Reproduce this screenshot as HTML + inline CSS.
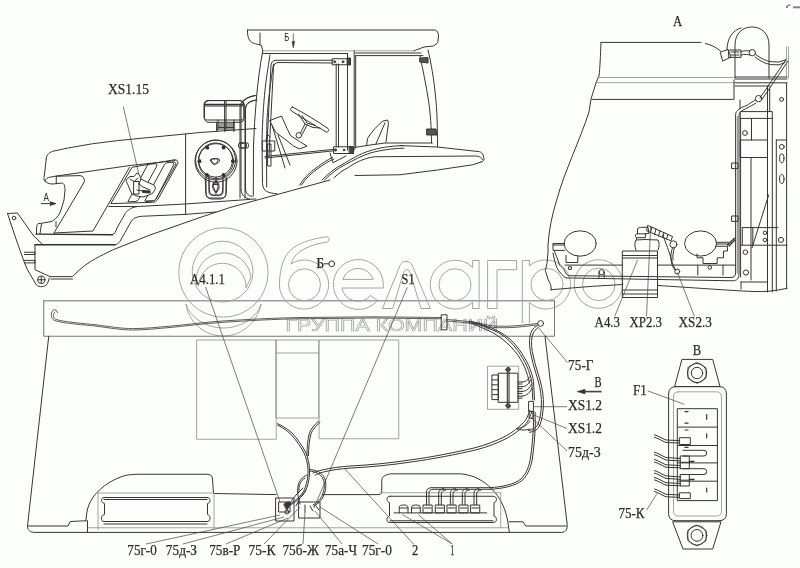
<!DOCTYPE html>
<html><head><meta charset="utf-8"><style>
html,body{margin:0;padding:0;background:#fcfefc;}
svg{display:block;will-change:transform;}
.l{fill:none;stroke:#3a3236;stroke-width:1;stroke-linejoin:round;stroke-linecap:round;}
.t{fill:none;stroke:#444;stroke-width:0.7;}
.k{fill:none;stroke:#2e2e2e;stroke-width:1.3;}
.g{fill:none;stroke:#8c8c8c;stroke-width:0.8;}
.wm{fill:none;stroke:#9a9a9a;stroke-width:0.9;}
.tx{font-family:"Liberation Serif",serif;font-size:15px;fill:#2e2a2c;stroke:#2e2a2c;stroke-width:0.25;}
.sx{font-family:"Liberation Sans",sans-serif;font-size:11px;fill:#2a2a2a;}
</style></head><body>
<svg width="800" height="568" viewBox="0 0 800 568">
<!-- WATERMARK -->
<g id="wm" class="wm">
  <circle cx="223.4" cy="272.5" r="44.7"/>
  <circle cx="222.6" cy="271.6" r="30.4"/>
  <path d="M198.5,286 L196.3,284 A27,27 0 0 1 251,277 L246,288 A23.5,23.5 0 0 0 198.5,286 Z"/>
  <path d="M186,304 C189,316 205,328 223.6,328 C242,328 258,316 261,304 C259,318 245,336 223.6,336 C202,336 188,320 186,304 Z"/>
  <path d="M327.5,236.75 C316,238 302,241.5 293,248 C284,255 280,266 279.4,284.5 C279.4,298 290.5,309 304,309 C317.6,309 328.6,298 328.6,284.5 C328.6,271 317.6,260 304,260 C299.5,260 295,261.5 291,264 C293,257 298,252 305,248.5 C312,245 320,243 327.5,242 C329.5,241 329.5,237 327.5,236.75 Z"/>
  <circle cx="304.5" cy="284.8" r="16"/>
  <path d="M383.3,288 L383.3,284.5 A25,25 0 1 0 377.5,300.5 L370.5,295.5 A16.5,16.5 0 0 1 341.9,288 Z"/>
  <path d="M342.8,279.4 L373.2,279.4 A16,16 0 0 0 342.8,279.4 Z"/>
  <path d="M382.5,308.5 L399.4,267 C401,263 403,261.3 406,261.3 C409,261.3 411,263 412.5,266 L430.3,308.5 L421,308.5 L410.6,274 C409.5,271 408.5,269.7 406.9,269.7 C405.3,269.7 404,271 403,274 L392.8,308.5 Z"/>
  <path d="M479.1,260.5 L479.1,308.5 L472.6,308.5 L472.6,302 C468.5,306.5 462,309 455,309 C441.5,309 430.3,298 430.3,284.7 C430.3,271.3 441.5,260.3 455,260.3 C462,260.3 468.5,263 472.6,267.5 L472.6,260.5 Z"/>
  <circle cx="455" cy="284.7" r="16"/>
  <path d="M487.6,308.5 L487.6,260.5 L516.6,260.5 L516.6,269.7 L497,269.7 L497,308.5 Z"/>
  <path d="M522.3,323 L522.3,260.5 L529.4,260.5 L529.4,266 C533.5,262 539.5,260 546,260 C559.5,260 570.5,271 570.5,284.5 C570.5,298 559.5,309 546,309 C539.5,309 533.5,306.5 529.4,302.5 L529.4,323"/>
  <circle cx="547" cy="284.5" r="16"/>
  <circle cx="598.5" cy="284" r="24.3"/>
  <circle cx="598.8" cy="284.4" r="16.3"/>
  <text x="285.5" y="331" style="font-family:'Liberation Sans',sans-serif;font-size:16px;stroke-width:0.6" textLength="213" lengthAdjust="spacingAndGlyphs">ГРУППА КОМПАНИЙ</text>
</g>

<!-- TRACTOR -->
<g id="tractor" class="l">
  <!-- hood top -->
  <path d="M46.25,158.75 C46.5,154 50,152 54,151 L67.5,148.1 L92.5,143.75 L117.5,140.6 L200,132.5 L256,128.5"/>
  <!-- hood front + C cutout inner -->
  <path d="M46.25,158.75 L44.4,175 C43.5,179 44,181 46,182 C48,183.5 50,184 53,184 L62,183 C64,183.5 65,185 65,190 L64,200 L61,210 C60,213 58.5,215.5 57,217 C55,219.5 53,221 51,221.6 L43,223 L38,223.7 C37,224.5 36.8,226 36.6,228 L36.5,233.7"/>
  <path d="M45,181 C46,178.5 47.5,177.5 50,177.2 L55,176.25 L130,165.5 L175,160.6"/>
  <path d="M56.25,176.25 L56.25,183.5"/>
  <path d="M41.5,224 L40,233.7"/>
  <path d="M56,221.6 L56,227"/>
  <!-- C shape right edge -->
  <path d="M56.25,176.25 L80,175.6 C83,176 84.5,178 84.4,181.25 L82.5,185 L54,233"/>
  <!-- grille bottom + long diagonal -->
  <path d="M54,233 L93,231 L129.5,167.3"/>
  <!-- grille frame -->
  <path d="M111,203.3 L132,167.3 L174,159.8 Q178.5,159.5 177.8,163.5 L157.5,200 Q156,202.3 153,202.3 Z"/>
  <path d="M156,199 Q154.8,200.8 152.5,200.8 L146,201 M175.8,164.5 L156,199 M173,161.8 Q176.5,161.8 175.8,164.5"/>
  <!-- slots -->
  <path d="M128,201.5 L147.5,165 Q149,164 150.5,163.8 L155.5,163.8 Q157.3,164.3 156.8,166 L138.5,199.5 Q137.5,201.5 135.5,201.5 Z"/>
  <path d="M145,200.5 L164.5,164.5 Q166,162.5 168,162.5 L172,162.3 Q174,162.8 173.8,164.5 L156,199 Q155,200.8 152.5,201 L146.5,201.5 Z"/>
  <!-- connector XS1.15 -->
  <path style="fill:#fcfefc" d="M126.5,179.5 L130,176.5 L134,176.5 L137,173 L139.5,175 L141,179 L147,182 L154,185 C155.5,186.5 155.5,189.5 155,189.5 L153,193 L149,195 L143,197 L137,196 L132,194 L130,190 L128,185 L126.5,182 Z"/>
  <path d="M134,181.5 L139,181.5 L139,194 L134,194 Z M130,179 L134,181.5 L138,178 M139,184 L143,187 L150,190 M137,190 L143,191 L150,192.5 M141,179 L139,184"/>
  <path d="M143,190.5 L150,191 L150,193 L143,192.5 Z" style="fill:#333"/>
  <!-- lines below grille -->
  <path d="M108.75,206.5 L137.5,206.5"/>
  <path class="k" d="M36,234.2 L112.5,234.75"/>
  <path d="M112.5,234.75 C114.5,234.5 116,231 117,228 L125,213.75 C126,212 127,211 128.75,210 C130.5,208.5 132,207.5 137.5,206.5 L185,204 L250,199.4"/>
  <path class="k" d="M35,244.75 L115,244.75"/>
  <path d="M115,244.75 C117,244.5 118.5,243.5 120,241.25 L125,232.5 L131.25,221.25 C132.5,219.5 134,218 136.25,217.5 C138,216.6 140,216.25 142.5,216.25 L185,214.4 L216,212"/>
  <path d="M185.6,134 L185.6,214.4"/>
  <!-- bumper/frame -->
  <path d="M33.75,236 L43,244.75"/>
  <path d="M35,244.75 L35,269.75 L50,276.6 L72.5,276.6 L81,268.5 C90,261 100,256 112.5,250 L150,235 L200,217.5 L230,207.5 L280,193.75 L330,180"/>
  <path d="M51,279 L72.5,279"/>
  <!-- bracket -->
  <path d="M7.5,213.5 L17.5,213 L33.75,236 M7.5,213.5 L15,236 L23.75,261 L27.5,269.75 L36.25,284.75 C38,286.5 40,287 42.5,286.6 C45,286 47,285 47.5,283.5 L49.4,278"/>
  <circle cx="14" cy="218" r="1.8"/>
  <path d="M24.4,252.25 L35,252.25 L35,254.5 L24.4,254.5 M24.4,260.4 L35,260.4 L35,262.9 L24.4,262.9"/>
  <circle cx="41.25" cy="279.75" r="3.75"/>
  <path d="M38,279.75 L44.5,279.75 M41.25,276.5 L41.25,283"/>
  <!-- arrow A -->
  <path d="M41.5,203.6 L55,203.6"/>
  <path d="M50,201.8 L55.6,203.6 L50,205.4" style="fill:#3a3a3a"/>

  <!-- air cleaner -->
  <path d="M204.5,105 C204.5,102 206.5,100.6 210,100.6 L238,100.6 C242,100.6 244,102 244,105 L244,118 C244,120.5 242.5,122.3 240,122.3 L208.5,122.3 C206,122.3 204.5,120.5 204.5,118 Z"/>
  <path d="M204.7,104.5 L243.8,104.5" style="stroke-width:1.6"/>
  <path d="M224.6,100.6 L224.6,122.3"/>
  <path d="M216.6,122.3 L216.6,131.5 M233.8,122.3 L233.8,131.5 M216.6,126 L233.8,126 M216.6,129 L233.8,129 M224.6,122.3 L224.6,131.5"/>
  <!-- fuel cap -->
  <circle cx="216" cy="161.2" r="21"/>
  <circle cx="216" cy="161.2" r="17.5"/>
  <path d="M210.5,160 C211.5,158 213.5,158.5 214.3,159.5 C215,158.5 217,158 218,160 C218,162 215.5,164.5 214.3,164.8 C213,164.5 210.5,162 210.5,160 Z"/>
  <g style="fill:#3a3236;stroke:none">
  <circle cx="207" cy="147.5" r="1.9"/><circle cx="223.5" cy="147.5" r="1.9"/><circle cx="199.5" cy="161.2" r="1.9"/><circle cx="233" cy="161.2" r="1.9"/><circle cx="207" cy="175" r="1.9"/><circle cx="223.5" cy="175" r="1.9"/>
  </g>
  <path d="M205.2,178 L205.8,192 C206,197 209,199 212,199 L220,199 C223,199 226,197 226.2,192 L226.8,178"/>
  <path d="M209,180 L209.3,190 C209.5,193.5 211.5,195.3 213.5,195.5 L218.5,195.5 C220.5,195.3 222.5,193.5 222.7,190 L223,180"/>
  <path d="M213,184.5 L219,184.5 L219,188.5 L216,193.5 L213,188.5 Z M214,184.5 L214,182 L218,182 L218,184.5 M216,178 L216,182"/>
  <!-- pipe -->
  <path d="M240,198 L240,108 C240,101 246,97 255,95.5"/>
  <path d="M245,198 L245,110 C245,104 249,101 256,100"/>
  <rect x="238.5" y="143" width="8" height="5" rx="1.5"/>
  <!-- cab roof -->
  <path d="M247.5,30 L435,30 C437,30.5 438.5,33 438.5,36 L438,41 C437.5,43 436.5,44.5 435,44.8 L433.5,46 L424,47 L414,50.8"/>
  <path d="M247.5,30 C247.3,34 248,38 249.5,40 C251,43 256,44 260,44.8 L261.5,45.5 L262.75,50.8"/>
  <path d="M260,33 L260,45"/>
  <path class="g" d="M262.75,50.8 L414,50.8"/>
  <path d="M262.75,53.5 L347.5,53.5"/>
  <path d="M355.7,53 L421,53 M355.7,55.6 L423,55.6"/>
  <!-- A pillar -->
  <path d="M262.75,50.8 C260,65 257.5,85 256.3,100 C255,115 254,130 253.5,145 L253.3,196"/>
  <path d="M270,55 C268,68 266,80 265,90 C263.5,105 262.5,120 262,141.8 L262.5,183.7 C263,188 264.5,190.5 266.7,191.5 C270,193 273,193.5 276.8,193.7"/>
  <path d="M273.5,64 C271,80 268,100 267,120 L266.5,142 L266.7,187"/>
  <!-- door frame -->
  <path d="M333,60.25 L276,60.25 C273,60.5 271.5,62 271,65 L268,125 L266.5,156"/>
  <path d="M333,63 L278,62.5 C275.5,63 274,64 273.5,67 L270.5,125 L269,156"/>
  <path d="M336.2,64 L336.2,147 M338.5,64 L338.5,147"/>
  <!-- B-pillar -->
  <path d="M347.5,53.5 L347.5,150 M354.2,50.8 L354.2,150 M355.7,55.6 L355.7,148"/>
  <path d="M332.5,58.75 L350.5,58.75 L350.5,64.75 L332.5,64.75 Z"/>
  <path d="M347.5,58 L350.5,58 L350.5,64.75 L347.5,64.75 Z" style="fill:#444"/>
  <circle cx="334.7" cy="61.75" r="0.9" style="fill:#333"/>
  <circle cx="343" cy="61.75" r="0.9" style="fill:#333"/>
  <path d="M334,146.75 L353.5,146.75 L353.5,153.5 L334,153.5 Z"/>
  <path d="M349.5,146.75 L353.5,146.75 L353.5,153.5 L349.5,153.5 Z" style="fill:#444"/>
  <circle cx="335.5" cy="150" r="1" style="fill:#333"/>
  <circle cx="344" cy="150" r="0.8" style="fill:#333"/>
  <!-- door bottom rod -->
  <path d="M265,156.5 L334,149.3 M265,158 L334,150.8"/>
  <!-- rear pillar -->
  <path d="M428,50 C431,62 434,80 435.5,96 C437,110 437.5,125 437.5,147"/>
  <path d="M420,56 C423,70 426,85 428.6,101 C430.5,115 431.3,125 431.5,143"/>
  <path d="M420,58 L428,57.5 L428,63 L420,62 Z" style="fill:#555"/>
  <path d="M427,129 L436,129 L437,135 L427,135 Z" style="fill:#555"/>
  <!-- rear window bottom -->
  <path d="M355.7,147.3 C365,146 375,144 385,143 L432.3,143"/>
  <!-- rear seat -->
  <path d="M366.6,145.5 L367.5,138.5 C372,131 378,125 383,121 L387.6,120 L388.5,122.8 L386,142"/>
  <path d="M376,143.8 L385,122.8"/>
  <!-- front seat -->
  <path d="M270,120.5 L281.5,116 L287.5,129.5 L290.5,135.5 L299.5,141.5 L307,146 L299.5,149 L293.5,146 L286,140 L276,132.5 Z"/>
  <path d="M272,125 L285,168 M278,135 L290,165"/>
  <!-- steering wheel -->
  <path d="M292.5,107 C304,113 317,121 328,128.5 C329.5,130 328.3,132.5 326.3,132 C315,125.5 302.5,118 291.5,111 C290,110 290.5,107 292.5,107 Z"/>
  <path d="M298.5,114 L305,124 L313,127.5 L320,128 M302,115.5 L307,123 L315,125.5"/>
  <path d="M305,124 L300.5,133 M307,125 L302.5,134"/>
  <circle cx="298.8" cy="135.3" r="2.8"/>
  <!-- lever -->
  <path d="M262.75,141 L274.75,141 L274.75,151 L262.75,151 Z"/>
  <path d="M268,144 L271,144 L271,166 L268,166 Z"/>
  <path d="M266,140 L268,135 L270,137"/>
  <!-- air cleaner -->
  <path d="M208,100.5 L240,100.5 C243,100.5 244,102 244,105 L244,117 C244,119 243,120 241,120 L207,120 C205,120 204,119 204,117 L204,105 C204,102 205,100.5 208,100.5 Z"/>
  <path d="M226,100.5 L226,120 M204.5,106 L243.5,106"/>
  <path d="M218,120 L218,130 M234,120 L234,130 M218,124 L234,124 M218,127.5 L234,127.5 M226,120 L226,130"/>
  <!-- fuel cap -->
  <circle cx="215.6" cy="160" r="20"/>
  <circle cx="215.6" cy="160" r="17"/>
  <path d="M211,160 C212,158 219,158 220,160 C219,162.5 216.5,164 215.5,164 C214.5,164 212,162.5 211,160 Z"/>
  <g style="fill:#333;stroke:none">
  <circle cx="208" cy="148" r="1.3"/><circle cx="224" cy="148" r="1.3"/><circle cx="199" cy="161" r="1.3"/><circle cx="232.4" cy="161" r="1.3"/><circle cx="208" cy="176" r="1.3"/><circle cx="224" cy="176" r="1.3"/>
  </g>
  <path d="M206,178 L206,194 C206,197 208,198 210,198 L222,198 C224,198 226,197 226,194 L226,178"/>
  <path d="M209,177 L209,192 C209,194.5 210.5,195 212,195 L220,195 C221.5,195 223,194.5 223,192 L223,177"/>
  <path d="M213.5,183 L218,183 L218,187 L216,193 L213.5,187 Z M216,177.5 L216,183"/>
  <!-- pipe -->
  <path d="M241,190 L241,108 C241,101 247,97 256,95.5 M241,190 C241.5,195 245,198.5 250,199.2 L256,199"/>
  <path d="M245.5,190 L245.5,110 C245.5,104 249,101 257,100 M245.5,190 C246,193.5 248.5,196 252,196.5"/>
  <rect x="240.5" y="143" width="8" height="5" rx="1.5"/>
  <!-- fender -->
  <path d="M400,145.6 L437.5,147 L479.6,151.7 C482,152.5 483.5,154 484,159.5 C483.5,161 482.5,161.8 481,162"/>
  <path d="M334,177.75 C338,174 343,170 347.5,168 C356,162 365,158 374.5,156.75 L476,156 C479.5,156 482,158 483,160"/>
  <path d="M355,175.5 L400,174.75 L437.5,170 L472.6,164.8 L481,162"/>
  <path d="M299.5,185.2 C304,178 310,172 316,168 C322,163.5 327,160 332.5,157.5"/>
  <path d="M301.5,185 C306,178 312,172.5 318,168.5 C324,164 329,161 334,159"/>
  <path d="M322,180 C328,174 335,168 343,164 C350,160 360,153.5 370,150.75 C378,148 390,146 402.5,145.6"/>
  <path d="M324.5,180 C330.5,174 337.5,168.5 345.5,164.5 C353,160.5 362,155.5 371,152.8 C380,150.3 392,148.5 404,148.2"/>
  <path d="M330,153 L333,162.75 L346,156"/>
</g>

<!-- VIEW A -->
<g id="viewA" class="l">
  <path d="M601,42.4 L701,42.4"/>
  <path d="M705.5,43.5 C712,45 717,48 720.5,51"/>
  <path d="M601,42.4 C600.5,55 600,68 599,76 L598,78 L596,83 L591,99 L589,112 C580,140 565,170 556.7,200 C552,215 549,230 548,245 L548,252.8 L547,263.4 L545.3,270.4 L548,279.2 L550.6,284.5 L551.4,289.8"/>
  <path class="g" d="M598,77.5 L733,77.5 M596,82.6 L733,82.6"/>
  <path d="M592,99.4 L734,99.4 L734,80 M740,100 L740,108.7"/>
  <path d="M735,77 L787,77 M735,79 L787,79"/>
  <path d="M735,82.8 L787,82.8 M735,86 L770,86"/>
  <!-- beacon -->
  <path d="M735,78 L735,45 C735,33 743,27 752,27 C761,27 769,33 769,45 L769,78"/>
  <path d="M727,50 C727,38 733,30 741,28"/>
  <path d="M720.6,52 L728,49.5 L731,57 L723,61 Z"/>
  <path d="M729,50 L741,50 L741,57.4 L729,57.4 Z M731,52 L739,52 M731,55 L739,55"/>
  <path d="M741,51.5 C745,50.5 748,50.5 750,51 M741,55 C745,54 748,54.5 750,55"/>
  <circle cx="752.3" cy="52.7" r="3.2"/>
  <path d="M755.5,54.3 C759,57 763,59.5 766.5,60.6 C771,62 775,62 779,62 L785.6,59.8 M755,57 C759,60 763,62.5 766.5,63.5 C771,65 775,64.8 779,64.8 L785,62.5"/>
  <!-- rod -->
  <path d="M786.4,59 L760,98 M788,61 L762,99.5"/>
  <circle cx="758.6" cy="98.6" r="3.2"/>
  <!-- wire down -->
  <path d="M755.5,100 C752,102 749,104 747.5,105 C743,107 739,108.5 737.5,110.5 C736,112 735.6,113 735.6,116 L735.6,273 C735.6,276 734,277.3 731,277.5 L568.3,275.7 C566,274 565,272 564,269.4 C561.5,267 560.5,266 559.8,265.2 L556.6,256.7 L554.5,251.4"/>
  <path d="M756,103 C753,105 750,106.5 748,107.5 C744,109.5 741,111 740,112.5 C739.2,113.5 739,115 739,117 L739,274 C739,278.5 737,280.5 733,280.8 L566,277.9 C563,276.5 560.5,273 557.7,269.4 C556.5,267 555.5,264 554.5,260 L553,253"/>
  <path d="M737.5,117 L737.5,273" style="stroke:#999;stroke-width:1.5"/>
  <!-- right frame -->
  <path d="M740.6,111.6 L772.3,111.6 L772.3,118.4 L740.6,118.4 Z"/>
  <path d="M740.6,118.4 L740.6,277 M751.5,118.4 L751.5,140 M751,157.5 L751,280 M767.5,86 L767.5,292 M772.3,118.4 L772.3,292 M769.7,88 L769.7,111.6"/>
  <path d="M740.6,140 L767.5,140 L767.5,157.5 L740.6,157.5 Z"/>
  <path d="M776.3,140 L776.3,291 M786.6,82.8 L786.6,289"/>
  <path class="g" d="M786.5,47 L786.5,78 M788.5,47 L788.5,78"/>
  <path d="M776.3,140 L786.6,140 M742.3,227.6 L778,227.6 M740.6,245.2 L787,245.2"/>
  <path d="M742.3,227.6 L742.3,245.2 M752.8,227.6 L752.8,245.2"/>
  <path d="M768.7,195 L752,247.8"/>
  
  <path d="M741,282 L767,282 M741,282 L741,289"/>
  <circle cx="745" cy="133" r="2.4"/>
  <circle cx="781.8" cy="146.8" r="2.4"/>
  <ellipse cx="781.8" cy="158.3" rx="2.2" ry="4.5"/>
  <ellipse cx="781.8" cy="179" rx="2.2" ry="4.5"/>
  <circle cx="781.6" cy="99.4" r="2"/>
  <circle cx="765" cy="232.8" r="1.8"/>
  <circle cx="765" cy="239.9" r="1.8"/>
  <circle cx="781" cy="239.9" r="2.6"/>
  <circle cx="745.4" cy="252.2" r="2.3"/>
  <circle cx="746" cy="272.5" r="2.6"/>
  <path d="M732,163 L738,163 L738,168.6 L732,168.6 Z M732,216 L738,216 L738,221.4 L732,221.4 Z"/>
  <!-- lamps -->
  <ellipse cx="580.2" cy="243.5" rx="16.1" ry="12.7"/>
  <ellipse cx="700.6" cy="243.5" rx="16" ry="12.6"/>
  <path d="M564.5,243.5 L553,243.5 L553,250.4 L564.6,250.4 M553,245 L564.5,245"/>
  <path d="M566,255.5 L566,262.5 L577.8,262.5 L577.8,256"/>
  <path d="M568.8,266.8 L571.4,266.8 L571.4,269.4 L568.8,269.4 Z"/>
  <path d="M716.6,242.3 L728.6,242.3 M716.6,244 L728.6,244"/>
  <path d="M716,246.3 L727.5,246.3 L727.5,251 L723.5,251 L723.5,257.8 L717.2,257.8 L717.2,263.5 L703,263.5 L703,257.8 L697,257.8 L697,254"/>
  <path d="M697.8,265.2 L697.8,275 M723,265.2 L723,275"/>
  <circle cx="709.8" cy="267.5" r="1.8"/>
  <path d="M727.5,245 L734.4,238.3 M729,246 L735,240" style="stroke-width:1.3"/>
  <!-- floor lines -->
  <path d="M565,265.1 L622.7,265.1 M657.5,265.1 L735,265.1"/>
  <path d="M550.6,289.8 C565,288.5 580,287.3 592.8,286.3 L622.7,284.5 M657.5,285.5 C690,287.5 730,290.5 752.8,291.5 C765,292 775,291 787.1,288.3"/>
  <circle cx="601.6" cy="272.2" r="2.6"/>
  <path d="M599,272 L599,277.5 M604.2,272 L604.2,277.5"/>
  <!-- connector barrel -->
  <path d="M622.7,251 L657.5,251 L657.5,297.5 L622.7,297.5 Z"/>
  <path d="M622.7,255.5 L657.5,255.5 M622.7,258 L657.5,258 M622.7,290 L657.5,290 M622.7,294 L657.5,294"/>
  <path d="M636,250 C634.5,247 634.5,242 636,240 L645,239.5 L658,240 C659.5,242 659.5,247 658,250"/>
  <path d="M636.5,239.5 L636.5,237.7 L645.4,237.7 L645.4,233.8 L636.5,233.8 C635,233.8 635,237.7 636.5,237.7"/>
  <path d="M637.5,233.8 L637.5,229 C638,227.5 640,227.3 642,227.3 L648,227.3 L649,233.4 L645.4,233.8"/>
  <path d="M648,225.5 L672.5,236.5 L671,240.8 L647,231 Z"/>
  <path d="M652,227 L650.5,232.5 M656,229 L654.5,234.5 M660,230.5 L658.5,236 M664,232.5 L662.5,237.5 M668,234.5 L666.5,239"/>
  <circle cx="673.4" cy="244.3" r="3.5"/>
  <path d="M662.9,235 C665,241 667,246 669,251.7 L671.6,260 C672.5,264 674,268 676,270"/>
  <path d="M672.5,247.8 C671,252 670.5,256 671,260 C671.5,264 673,268 675,270 M674.5,247.8 C673,252 672.5,256 673,260"/>
  <circle cx="677.2" cy="271.5" r="2.5"/>
</g>

<!-- PANEL (view B) -->
<g id="panel" class="l">
  <path style="stroke:#97a397;stroke-width:1.3" d="M43.75,300.75 L554.5,300.75"/>
  <path style="stroke:#6a6468;stroke-width:0.9" d="M43.75,300.75 L43.75,336.25 L554.5,336.25 L554.5,300.75"/>
  <path d="M48.75,336.25 L27.5,526 C27.5,529.5 29,531.5 33.5,532.4 L561.5,532.4 C566,532 567.5,529.5 567.2,524.5 L557.5,442 L545,336.25"/>
  <path d="M27.5,526 L68,526 L70.25,521.5 L86,520.75"/>
  <path d="M509,521.75 L523,521.75 L525.75,526 L566.5,526"/>
  <path class="g" d="M87.5,527.75 L508.5,527.75"/>
  <!-- left console -->
  <path d="M86,520.75 C86.5,510 88.5,500 99.5,490 C106,484 113,479.5 125,475.5 C130,474.5 135,474.25 140,474.25 L207,474.25 C210.5,474.25 212.5,476 212.5,479 L213.5,493.5 L276,494.6"/>
  <path d="M87.5,520.75 L87.5,532.4"/>
  <path class="g" d="M98,493 L214,493 L214,529.75 M98,493 L98,529.75"/>
  <path d="M104,497.5 L207,497.5 C209,497.5 210,498.5 210,500.5 C210,502.5 209,503 207.5,503.5 L207.5,514.5 C209,515 210,516 210,518 C210,520.5 209,521.5 207,521.5 L104,521.5 C102,521.5 101.5,520.5 101.5,518.3 C101.5,516 102.5,515 104.5,514.5 L104.5,503.5 C102.5,503 101.5,502 101.5,500.5 C101.5,498.5 102.5,497.5 104,497.5 Z"/>
  <path d="M104,499.5 L207,499.5 M104,524 L207,524"/>
  <!-- right console -->
  <path d="M323,494.6 L380,494.6 L381.75,492.75 L381.75,480.5 C382,477 384,475 390.5,473.85 L460.5,473.85 C465,474 470,475.5 474.5,477 C480,479.5 485,482.5 488.5,485.75 C494,491 497,494.5 499,498 C502,503 504.5,508 506,513.75 C507.5,519 508.3,524 508.6,527.75 L509.5,532.4"/>
  <path class="g" d="M380,492.75 L500.75,492.75 L500.75,527.75"/>
  <path d="M390,496.25 L493,496.25 C495.5,496.25 496.4,497.5 496.4,499.5 C496.4,501.5 495.5,502 494,502.5 L494,516 C495.5,516.5 496.4,517.5 496.4,519.5 C496.4,521.5 495.5,522.5 493,522.5 L390,522.5 C388,522.5 387,521.5 387,519.5 C387,517.5 388,516.5 389.5,516 L389.5,502.5 C388,502 387,501 387,499.5 C387,497.5 388,496.25 390,496.25 Z"/>
  <path d="M390,520.75 L493,520.75"/>
  <path d="M394,512.9 L486.75,512.9"/>
  <!-- rectangles -->
  <path class="g" d="M197,340 L276.25,340 L276.25,439.25 L197,439.25 Z"/>
  <path class="g" d="M276.25,340 L318.75,340 L318.75,418 L276.25,418 Z M276.25,353 L318.75,353"/>
  <path class="g" d="M319.5,340 L398.75,340 L398.75,438.75 L319.5,438.75 Z"/>
  <!-- relay -->
  <path class="g" d="M487.9,366.2 L518.7,366.2 L518.7,409.3 L487.9,409.3 Z"/>
  <path d="M492.3,375 L498.5,375 L498.5,399.6 L492.3,399.6 Z M492.3,379.9 L498.5,379.9 M492.3,384.8 L498.5,384.8 M492.3,389.7 L498.5,389.7 M492.3,394.6 L498.5,394.6"/>
  <path d="M498.5,373.2 L517.9,373.2 L517.9,402.3 L498.5,402.3 Z"/>
  <path d="M507.3,367.5 L507.3,408 M509,367.5 L509,408" style="stroke-width:1.1"/>
  <path d="M505.5,369.5 L508.2,367.3 L510.9,369.5 L508.2,371.3 Z M505.5,405.8 L508.2,408.2 L510.9,405.8 L508.2,404 Z" style="fill:#555"/>
  <path d="M517.9,382 L522,382 M517.9,386.7 L522,386.7 M517.9,391.4 L522,391.4 M517.9,396.1 L522,396.1 M517.9,384 L522,384 M517.9,388.7 L522,388.7 M517.9,393.4 L522,393.4 M517.9,398.1 L522,398.1"/>
  <!-- connector block -->
  <path d="M276,498 L294,498 L294,521 L276,521 Z"/>
  <path d="M299,502 L320,502 L320,518 L299,518 Z"/>
  <path d="M279,502 L290,502 L290,512 L279,512 Z"/>
  <!-- strip clip & grommet -->
  <path d="M441.6,314.8 L447,314.8 L447,329.8 L441.6,329.8 Z"/>
  <circle cx="540.6" cy="323.5" r="2.9"/>
</g>

<!-- FUSES IN CONSOLE -->
<g id="fuses" class="l">
  <path d="M399.25,512.9 L399.25,507.5 C399.25,505.5 401,505 403.6,505 C406.3,505 408,505.5 408,507.5 L408,512.9 M399.25,508 L408,508"/>
  <path d="M411.5,512.9 L411.5,507.5 C411.5,505.5 413.3,505 415.9,505 C418.5,505 420.25,505.5 420.25,507.5 L420.25,512.9 M411.5,508 L420.25,508"/>
  <rect x="423.4" y="505" width="8.75" height="7.9"/>
  <rect x="435.65" y="505" width="8.75" height="7.9"/>
  <rect x="447.4" y="505" width="8.75" height="7.9"/>
  <rect x="459.3" y="505" width="8.75" height="7.9"/>
  <rect x="471" y="505" width="8.75" height="7.9"/>
  <path d="M424.5,508 L431,508 M436.7,508 L443.3,508 M448.5,508 L455,508 M460.4,508 L467,508 M472,508 L478.7,508"/>
  <path d="M426.5,505 L426.5,492 C426.5,489.5 428,488 431,487.7 L490,487.7 M429,505 L429,493 C429,490.5 430.5,489.3 433,489.3 L490,489.3"/>
  <path d="M438.7,505 L438.7,493.5 C438.7,490.5 440.5,489 444,488.5 M441.3,505 L441.3,494 C441.3,491.5 443,490.2 446,490"/>
  <path d="M450.4,505 L450.4,493.5 C450.4,490.5 452,489 455.5,488.5 M453,505 L453,494 C453,491.5 454.7,490.2 457.5,490"/>
  <path d="M462.3,505 L462.3,493.5 C462.3,490.5 464,489 467.5,488.5 M465,505 L465,494 C465,491.5 466.5,490.2 469.5,490"/>
  <path d="M474,505 L474,493.5 C474,490.5 475.7,489 479,488.5 M476.7,505 L476.7,494 C476.7,491.5 478.3,490.2 481,490"/>
  <path d="M490,487.7 C502,487 514,484.5 521,479 C527,473 529,466 530.5,458 C532,448 533,436 533.5,424 L533,412 M490,489.3 C503,488.6 515,486 522.5,480.2 C528.5,474 530.8,467 532.3,459 C533.8,449 534.8,437 535.3,425 L535,412"/>
</g>

<!-- HARNESS -->
<g id="harness" class="l">
  <!-- strip wire -->
  <path style="stroke-width:0.8" d="M57.5,312.5 C57,310 55,309.3 53.5,310 C51,311.5 50.5,317 53,319.5 C56,322.5 75,324 95,326 C110,328 122,330 132.5,330 C145,330 158,328.5 170,327.5 C186,326 205,323.5 220,322.5 C250,320.5 275,319.2 300,318.75 L375,318 L441.6,318.8"/>
  <path style="stroke-width:0.8" d="M55,312 C53,313.5 53,317 54.5,318.5 C57,321 75,322.7 95,324.7 C110,326.7 122,328.6 132.5,328.6 C145,328.6 158,327.2 170,326.2 C186,324.7 205,322.2 220,321.2 C250,319.2 275,318 300,317.5 L375,316.8 L441.6,317.5"/>
  <path style="stroke-width:0.8" d="M447,319.5 C455,320 463,321 471.7,321.9 C480,323 486,325 492.3,325.8 C500,326.5 508,326.3 516,325.8 C525,325 531,324 537.7,323.5"/>
  <path style="stroke-width:0.8" d="M447,321 C455,321.5 463,322.5 471.7,323.4 C480,324.5 486,326.5 492.3,327.3 C500,328 508,327.8 516,327.3 C525,326.5 531,325.5 537.8,325"/>
  <!-- bundle down to relay -->
  <path d="M470,321 C480,324 490,327 498,331 C507,335.5 514,342 519.2,349.6 C523,355 526,360 528.7,365.5 C531,371 532.5,376 533.5,381.3 L534.5,400"/>
  <path d="M472,322.5 C482,325.5 491,329 499,333 C507,337.5 513,344 517.7,350.6 C521.5,356 524.5,361 527,366.5 C529.3,372 530.8,377 531.8,382 L532.8,400"/>
  <path d="M468,322 C478,326 488,330 495,334 C503,339 510,345 515.5,352 C519.5,357 522.5,362.5 525,368 C527,373 528.5,378 529.5,383"/>
  <!-- pin wires -->
  <path d="M522,382 C526,382 528,380 529.5,377 M522,386.7 C526,386.7 529,384 530.5,380 M522,391.4 C527,391.4 530,388 531.5,384 M522,396.1 C527,396 530.5,392 532,388"/>
  <!-- wire from grommet -->
  <path d="M536.7,325.8 C533,328 531,331 530,336 C529,342 529.5,349 531.5,357 C533,364 535.5,372 538,380 C540.5,389 541.8,398 541.4,405 C541,413 540,420 537.5,425 C535.5,428.5 532,430 528.5,430.5"/>
  <path d="M538.5,327.3 C535,329.5 533,332.5 532,337 C531,343 531.5,349.5 533.5,357 C535,364 537.5,372 540,380 C542.5,389 543.8,398 543.4,405 C543,413 542,420.5 539.5,426 C537.5,429.8 534,431.8 529.5,432.3"/>
  <path d="M530,421 C527,426 522,428 516,428.5 C521,430.5 526,430.5 530,429"/>
  <!-- XS1.2 connectors -->
  <path d="M529,401.4 L533.4,401.4 L533.4,411.5 L529,411.5 Z M529.5,411.5 L533.4,411.5 L533,418.7 L529.5,418 Z"/>
  <!-- long harness -->
  <path d="M530,410 C528,416 526,421 522,424 C517,429 512,432.5 506,436 C496,441 486,445 474,448 C455,452.5 432,457 410,460 C390,463 370,465 350,466 C340,466.8 330,468 322,470 C318,471 315,472 313,473"/>
  <path d="M532,411 C530,417.5 528,422.5 523.5,426 C518.5,431 513.5,434.5 507.5,438 C497.5,443 487.5,447 475.5,450 C456,454.5 433,459 411,462 C391,465 371,467 351,468 C341,468.8 331,470 323.5,472 C320,473 317,474 315,475"/>
  <!-- loops near connector -->
  <path d="M277.5,423.6 C285,427 291,431 295.8,437.3 C301,444 305,450 307,455.6 C309,462 309.8,468 309.5,474 C309,481 307.5,487 305,492 C302.5,496 299,499 295.8,501.5 L289,506"/>
  <path d="M277.5,425.1 C284.5,428.5 290,432.5 294.5,438.5 C299.5,445 303.5,451 305.5,456.5 C307.5,462.5 308.3,468.5 308,474 C307.5,480.5 306,486.5 303.5,491.5 C301,495.5 297.5,498.5 294.5,501 L287.5,505.5"/>
  <path d="M318.6,421 C314,425 311,429 309.5,432.8 C308,438 307,446 307,455.6 M320,422.3 C315.5,426.2 312.5,430 311,433.5 C309.5,439 308.5,447 308.5,455.6"/>
  <path d="M309.5,469.4 C313,469.8 316,470.5 318.6,471.7 C322,474 325,477 325.5,481 C326.5,487 325.5,492 323,497 C321,501 318,504 314,506 M309.5,471 C312.5,471.3 315,472 317.3,473 C320.5,475 323.3,478 324,481.5 C325,487 324,491.8 321.6,496.5 C319.7,500.3 317,503 313,505"/>
  <path d="M307,475 C302,477 299,481 298,486 C297,492 298,498 300,504 M305,478 C300,481 298.5,486 299,492"/>
  <path d="M303,488 L296,495 L290,503 M306,490 L300,498 L296,506"/>
  <path d="M284,504 C286,502 289,501 291,503 L287,510 Z" style="fill:#3a3236"/>
  <path d="M310,506 L313,511 M316,506 L319,510 M305,505 L305,512"/>
  <circle cx="287" cy="512" r="2"/>
</g>

<!-- FUSE BLOCK B -->
<g id="fuseB" class="l">
  <path d="M682.3,359.4 L712.7,359.4 L720,386.6 L675,386.6 Z"/>
  <path d="M697,362.5 L706.1,367.75 L706.1,378.25 L697,383.5 L687.9,378.25 L687.9,367.75 Z" style="stroke-width:0.7"/>
  <circle cx="697" cy="373" r="9.6"/>
  <circle cx="697" cy="373" r="5.7"/>
  <path d="M676,386.6 L719,386.6 Q726.4,386.6 726.4,394 L726.4,513.5 Q726.4,520.7 719,520.7 L676,520.7 Q668.6,520.7 668.6,513.5 L668.6,394 Q668.6,386.6 676,386.6 Z"/>
  <path d="M678,391.8 L716.5,391.8 Q721.5,391.8 721.5,396.8 L721.5,511 Q721.5,516 716.5,516 L678,516 Q673.5,516 673.5,511 L673.5,396.8 Q673.5,391.8 678,391.8 Z" class="g"/>
  <path d="M677.7,408.7 L717.4,408.7 L717.4,500.6 L677.7,500.6 Z M677.7,427.1 L717.4,427.1 M677.7,445.5 L717.4,445.5 M677.7,462.9 L717.4,462.9 M677.7,481.2 L717.4,481.2"/>
  <path d="M685,411.6 L688,411.6 M685,423.2 L688,423.2 M685,430 L688,430 M685,447.4 L688,447.4 M706.7,414.5 L706.7,419.3 M706.7,433.8 L706.7,437.7 M706.7,488 L706.7,491.9" style="stroke-width:1.2"/>
  <path d="M673,521.8 L721,521.8 L712.7,549 L683.4,549 Z"/>
  <path d="M697,525.2 L706.1,530.4 L706.1,540.8 L697,546 L687.9,540.8 L687.9,530.4 Z" style="stroke-width:0.7"/>
  <circle cx="697" cy="535.4" r="9.8"/>
  <circle cx="697" cy="535.4" r="5.9"/>
  <!-- wires & terminals -->
  <path d="M654.5,434.8 C658,435.5 662,438.5 666,440 L679.7,440.6 M654.5,437.3 C658,438 662,441 666,442.5 L679.7,443"/>
  <path d="M654.5,452.2 C658,453 662,456 666,457.5 L680.6,458.5 M654.5,454.7 C658,455.5 662,458.5 666,460 L680.6,461"/>
  <path d="M654.5,459.5 C658,460.3 662,463.3 666,464.8 L680.6,465.5 M654.5,462 C658,462.8 662,465.8 666,467.3 L680.6,467.8"/>
  <path d="M654.5,470.6 C658,471.4 662,474.4 666,475.9 L680.6,477 M654.5,473.1 C658,473.9 662,476.9 666,478.4 L680.6,479.4"/>
  <path d="M654.5,477.4 C658,478.2 662,481.2 666,482.7 L680.6,483.5 M654.5,479.9 C658,480.7 662,483.7 666,485.2 L680.6,485.8"/>
  <path d="M654.5,489 C658,489.8 662,492.8 666,494.3 L679.7,495 M654.5,491.5 C658,492.3 662,495.3 666,496.8 L679.7,497.3"/>
  <path d="M679.7,437.7 L690.3,437.7 L690.3,444.5 L679.7,444.5 Z"/>
  <path d="M680.6,456 L689.3,456 L689.3,468.7 L680.6,468.7 Z M680.6,462.3 L689.3,462.3"/>
  <path d="M680.6,474.5 L689.3,474.5 L689.3,486 L680.6,486 Z M680.6,480.2 L689.3,480.2"/>
  <path d="M679.7,492.8 L690.3,492.8 L690.3,498.6 L679.7,498.6 Z"/>
  <path d="M683,450.3 L704,450.3 Q706.7,450.3 706.7,453.1 Q706.7,456 704,456 L683,456 M683,468.7 L704,468.7 Q706.7,468.7 706.7,471.6 Q706.7,474.5 704,474.5 L683,474.5"/>
  <path d="M689.3,461.5 L694,461.5 M689.3,479.5 L694,479.5" style="stroke-width:1.3"/>
</g>

<!-- TEXT LABELS -->
<g id="labels" class="tx">
  <text x="107.9" y="93.9" textLength="41.2" lengthAdjust="spacingAndGlyphs">XS1.15</text>
  <text x="190" y="283.75" textLength="35" lengthAdjust="spacingAndGlyphs">A4.1.1</text>
  <text x="401.6" y="284.1" textLength="13" lengthAdjust="spacingAndGlyphs">S1</text>
  <text x="316.3" y="267.9" textLength="8.1" lengthAdjust="spacingAndGlyphs">Б</text>
  <text x="594.6" y="326.9" textLength="25.4" lengthAdjust="spacingAndGlyphs">A4.3</text>
  <text x="629.6" y="326.9" textLength="32.4" lengthAdjust="spacingAndGlyphs">XP2.3</text>
  <text x="678.6" y="326.9" textLength="33.3" lengthAdjust="spacingAndGlyphs">XS2.3</text>
  <text x="568.1" y="370.3" textLength="25.4" lengthAdjust="spacingAndGlyphs">75-Г</text>
  <text x="594.5" y="386.5" textLength="7.1" lengthAdjust="spacingAndGlyphs">B</text>
  <text x="567.9" y="410.05" textLength="34.1" lengthAdjust="spacingAndGlyphs">XS1.2</text>
  <text x="567.9" y="433" textLength="34.1" lengthAdjust="spacingAndGlyphs">XS1.2</text>
  <text x="568.1" y="456.5" textLength="32.5" lengthAdjust="spacingAndGlyphs">75д-3</text>
  <text x="692.8" y="355.2" textLength="8.4" lengthAdjust="spacingAndGlyphs">B</text>
  <text x="633" y="395" textLength="13.7" lengthAdjust="spacingAndGlyphs">F1</text>
  <text x="618.4" y="517.6" textLength="26.2" lengthAdjust="spacingAndGlyphs">75-К</text>
  <text x="127.35" y="554.6" textLength="29.4" lengthAdjust="spacingAndGlyphs">75г-0</text>
  <text x="165.85" y="554.6" textLength="31.2" lengthAdjust="spacingAndGlyphs">75д-З</text>
  <text x="209.25" y="554.6" textLength="31.15" lengthAdjust="spacingAndGlyphs">75в-Р</text>
  <text x="248.4" y="554.5" textLength="27.2" lengthAdjust="spacingAndGlyphs">75-К</text>
  <text x="282.4" y="554.5" textLength="36.6" lengthAdjust="spacingAndGlyphs">75б-Ж</text>
  <text x="325" y="554.5" textLength="32" lengthAdjust="spacingAndGlyphs">75а-Ч</text>
  <text x="362" y="554.5" textLength="30" lengthAdjust="spacingAndGlyphs">75г-0</text>
  <text x="672.9" y="25.5" textLength="9.2" lengthAdjust="spacingAndGlyphs">A</text>
  <text x="412" y="554.5" textLength="6.25" lengthAdjust="spacingAndGlyphs">2</text>
  <text x="450.3" y="554.5" textLength="4" lengthAdjust="spacingAndGlyphs">1</text>
</g>
<g id="sans" class="sx">
  <text x="43.5" y="200.6" textLength="5.5" lengthAdjust="spacingAndGlyphs" style="font-size:10.5px">A</text>
  <text x="284.2" y="40.8" textLength="5" lengthAdjust="spacingAndGlyphs" style="font-size:11.5px">Б</text>
</g>
<circle cx="331.7" cy="263.8" r="2.9" class="l"/>
<path d="M324.4,263.8 L328.8,263.8" class="l"/>
<g style="fill:#8a7f95"><rect x="786" y="5.5" width="2" height="2.5"/><rect x="788" y="4.5" width="2.5" height="1.5"/><rect x="793" y="6.3" width="7" height="2"/></g>
<g id="leaders" class="t">
  <path d="M123.25,106.5 L139,175"/>
  <path d="M293.3,33.4 L293.3,46"/>
  <path d="M292.1,41.5 L293.3,47.8 L294.6,41.5 Z" style="fill:#333"/>
  <path d="M205.6,287 L280,502"/>
  <path d="M407.3,287.4 L314,508"/>
  <path d="M538.75,328 L567.5,362.5"/>
  <path d="M583,391.6 L601.6,391.6" style="stroke-width:1.6"/>
  <path d="M577.2,391.6 L585,389.3 L585,393.9 Z" style="fill:#333"/>
  <path d="M533.75,406.7 L567,406.7"/>
  <path d="M533,414.6 L567,428.5"/>
  <path d="M531,417 L567,451"/>
  <path d="M647.7,390.8 L684.4,404.4"/>
  <path d="M646.7,510 L657,493.5"/>
  <path d="M614.75,316.4 L637.5,260"/>
  <path d="M646.5,316.4 L650.6,227"/>
  <path d="M694.4,316.4 L677.5,272.5"/>
  <path d="M146,544 L280,515"/>
  <path d="M183,544 L284,517"/>
  <path d="M226,544 L288,518"/>
  <path d="M264,544 L300,507"/>
  <path d="M303,544 L305,512"/>
  <path d="M342,544 L315,511"/>
  <path d="M378,544 L320,507"/>
  <path d="M413.75,544.4 L344,468"/>
  <path d="M452,543.8 L402.5,514.6 M452,543.8 L418.25,514.6"/>
</g>

</svg>
</body></html>
